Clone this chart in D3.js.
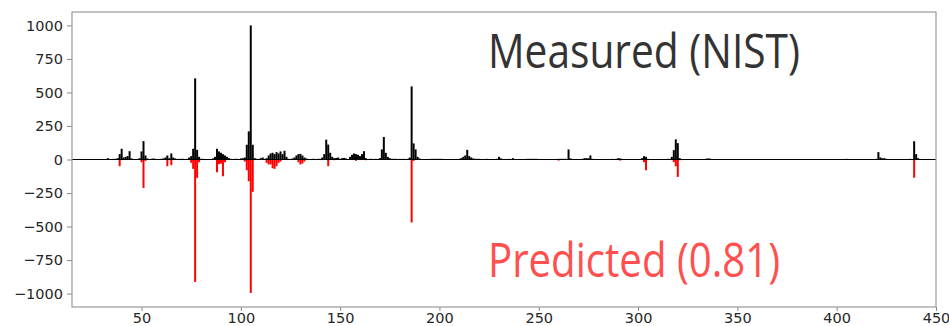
<!DOCTYPE html>
<html>
<head>
<meta charset="utf-8">
<script src="https://cdn.jsdelivr.net/npm/d3@7"></script>
<style>
  body { margin: 0; background: #fff; }
  svg { display: block; }
  .axis text { font-family: "DejaVu Sans", sans-serif; font-size: 14.5px; fill: #262626; }
  .axis path { display: none; }
  .axis line { stroke: #888; }
</style>
</head>
<body>
<svg id="chart" width="949" height="326"></svg>
<script>
// measured spectrum (NIST), m/z and relative intensity
const measuredMz = [33, 36, 37, 38, 39, 40, 41, 42, 43, 44, 45,
  49, 50, 51, 52, 53, 55, 56, 57,
  60, 61, 62, 63, 64, 65, 66, 67, 69, 70, 71, 73,
  74, 75, 76, 77, 78, 79, 80, 81,
  86, 87, 88, 89, 90, 91, 92, 93, 94, 95, 97, 98,
  100, 101, 102, 103, 104, 105, 106, 107, 108,
  110, 111, 112, 113, 114, 115, 116, 117, 118, 119, 120, 121, 122, 123, 124,
  126, 127, 128, 129, 130, 131, 132, 133,
  136, 137, 139, 140, 141, 142, 143, 144, 145, 146, 147,
  148, 149, 150, 151, 152, 153,
  155, 156, 157, 158, 159, 160, 161, 162, 163,
  165, 166, 168, 170, 171, 172, 173, 174, 175, 176, 177, 178, 180, 182,
  184, 185, 186, 187, 188, 189, 190,
  196, 197, 198, 199, 200, 201,
  210, 211, 212, 213, 214, 215, 216, 217, 218, 219, 220,
  224, 229, 230, 231, 235, 237,
  244, 245, 246, 247, 248, 249,
  260, 261, 262, 263, 264, 265, 266,
  272, 273, 274, 275, 276, 277,
  287, 289, 290, 291, 292,
  302, 303, 304, 305,
  315, 316, 317, 318, 319, 320, 321,
  334, 335, 336,
  405, 420, 421, 422, 423, 424, 425,
  437, 439, 440, 441];
const measuredInt = [10, 5, 5, 10, 40, 80, 15, 20, 25, 62, 8,
  10, 60, 137, 30, 8, 5, 8, 5,
  5, 8, 15, 30, 10, 45, 15, 8, 5, 5, 5, 5,
  15, 25, 80, 605, 72, 20, 5, 5,
  8, 20, 80, 60, 50, 40, 30, 20, 10, 5, 5, 5,
  8, 10, 15, 110, 210, 1000, 110, 10, 5,
  10, 15, 5, 10, 30, 45, 50, 40, 55, 45, 60, 40, 65, 20, 5,
  8, 15, 30, 40, 42, 30, 15, 8,
  5, 5, 5, 5, 15, 40, 148, 111, 50, 20, 10,
  12, 15, 5, 10, 12, 8,
  20, 35, 45, 40, 35, 25, 40, 62, 10,
  5, 5, 5, 10, 75, 168, 50, 20, 10, 5, 5, 5, 5, 5,
  5, 15, 545, 120, 75, 20, 8,
  5, 5, 5, 5, 5, 5,
  5, 10, 20, 30, 72, 25, 15, 8, 5, 5, 5,
  5, 5, 20, 8, 5, 10,
  5, 5, 5, 5, 5, 5,
  5, 5, 5, 5, 5, 75, 8,
  5, 10, 10, 10, 30, 5,
  5, 5, 10, 8, 5,
  10, 25, 20, 5,
  5, 5, 20, 70, 150, 122, 10,
  5, 8, 8,
  5, 5, 55, 15, 10, 10, 5,
  5, 136, 40, 10];

// predicted spectrum, drawn mirrored below zero
const predictedMz = [39, 50, 51, 52, 63, 65, 75, 76, 77, 78, 79,
  88, 89, 90, 91, 92,
  102, 103, 104, 105, 106,
  113, 114, 115, 116, 117, 118, 119, 120,
  129, 130, 131, 132, 144, 147, 158, 163,
  186, 187, 260, 291, 303, 304,
  318, 319, 320, 321, 439];
const predictedInt = [50, 20, 212, 10, 50, 42, 25, 70, 913, 137, 20,
  95, 35, 30, 125, 20,
  15, 80, 162, 995, 241,
  25, 37, 37, 65, 70, 50, 25, 15,
  20, 37, 30, 15, 50, 5, 10, 5,
  470, 10, 8, 8, 20, 80,
  20, 50, 130, 5, 136];

const xTicks = [50, 100, 150, 200, 250, 300, 350, 400, 450];
const yTicks = [-1000, -750, -500, -250, 0, 250, 500, 750, 1000];
const measuredLabel = 'Measured (NIST)';
const predictedLabel = 'Predicted (0.81)';

const margin = { top: 12, right: 13, bottom: 19, left: 72 };
const width = 949 - margin.left - margin.right;
const height = 326 - margin.top - margin.bottom;

const svg = d3.select('#chart');
const g = svg.append('g')
  .attr('transform', 'translate(' + margin.left + ',' + margin.top + ')');

const x = d3.scaleLinear().domain([15, 450]).range([0, width]);
const y = d3.scaleLinear().domain([-1100, 1100]).range([height, 0]);
const bw = x(1) - x(0);

const measured = measuredMz.map((m, i) => [m, measuredInt[i]]);
const predicted = predictedMz.map((m, i) => [m, -predictedInt[i]]);

g.selectAll('.pred')
  .data(predicted)
  .enter().append('rect')
  .attr('class', 'pred')
  .attr('x', d => x(d[0]) - bw / 2)
  .attr('width', bw)
  .attr('y', y(0))
  .attr('height', d => y(d[1]) - y(0))
  .attr('fill', '#ff0000');

g.selectAll('.meas')
  .data(measured)
  .enter().append('rect')
  .attr('class', 'meas')
  .attr('x', d => x(d[0]) - bw / 2)
  .attr('width', bw)
  .attr('y', d => y(d[1]))
  .attr('height', d => y(0) - y(d[1]))
  .attr('fill', '#000');

// zero line
g.append('line')
  .attr('x1', 0).attr('x2', width)
  .attr('y1', y(0)).attr('y2', y(0))
  .attr('stroke', '#000').attr('stroke-width', 1);

g.append('g')
  .attr('class', 'axis')
  .attr('transform', 'translate(0,' + height + ')')
  .call(d3.axisBottom(x).tickValues(xTicks).tickSize(4).tickPadding(2));

g.append('g')
  .attr('class', 'axis')
  .call(d3.axisLeft(y).tickValues(yTicks).tickSize(5).tickPadding(4)
    .tickFormat(d => d < 0 ? '\u2212' + Math.abs(d) : d));

g.append('rect')
  .attr('width', width).attr('height', height)
  .attr('fill', 'none').attr('stroke', '#999').attr('stroke-width', 1.2);

g.append('text')
  .attr('x', 488 - margin.left).attr('y', 68 - margin.top)
  .attr('textLength', 312).attr('lengthAdjust', 'spacingAndGlyphs')
  .style('font-family', '"Open Sans", sans-serif')
  .style('font-size', '47px')
  .attr('fill', '#333')
  .text(measuredLabel);

g.append('text')
  .attr('x', 488 - margin.left).attr('y', 277 - margin.top)
  .attr('textLength', 292).attr('lengthAdjust', 'spacingAndGlyphs')
  .style('font-family', '"Open Sans", sans-serif')
  .style('font-size', '47px')
  .attr('fill', '#ff5050')
  .text(predictedLabel);
</script>
</body>
</html>
